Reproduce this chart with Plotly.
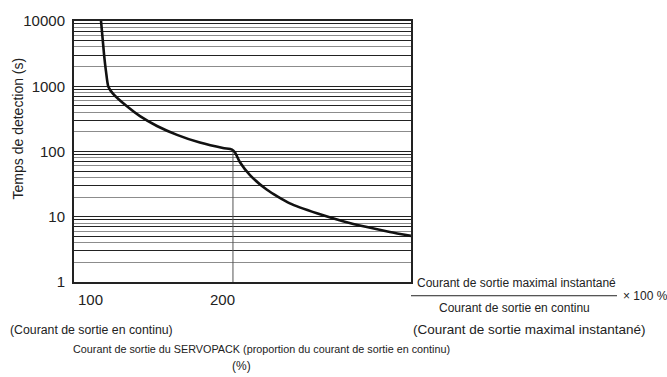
import numpy as np
import plotly.graph_objects as go

# Detection-time characteristic of the SERVOPACK overload protection
current_pct = [117.0, 118.9, 120.1, 121.6, 124.5, 133.3, 141.5, 152.2, 164.8,
               179.2, 193.7, 199.4, 201.3, 204.4, 210.7, 221.4, 235.8, 252.8,
               269.2, 284.3, 298.7, 311.9]
detect_time_s = [10000, 3080, 1710, 983, 771, 492, 348, 246, 180,
                 137, 113, 107, 96.6, 68.3, 43.5, 25.9, 16.0, 11.3,
                 8.56, 6.95, 5.85, 5.09]

x_range = [100, 312]
y_ticks = [1, 10, 100, 1000, 10000]
x_tick_values = [100, 200]

# minor grid values within each decade: odd multiples dark, even multiples light
dark_grid = [m * 10 ** d for d in range(4) for m in (1, 3, 5, 7, 9)] + [10000]
light_grid = [m * 10 ** d for d in range(4) for m in (2, 4, 6, 8)]

FONT = "Liberation Sans, Arial, sans-serif"
W, H = 667, 377
L, R, T, B = 74, 411, 16, 282  # plot area edges in pixels

fig = go.Figure()

# reference marker at 200 %
t200 = float(np.interp(200, current_pct, detect_time_s))
fig.add_trace(go.Scatter(x=[200, 200], y=[1, t200], mode="lines",
                         line=dict(color="#555555", width=1),
                         hoverinfo="skip", showlegend=False))

fig.add_trace(go.Scatter(x=current_pct, y=detect_time_s, mode="lines",
                         line=dict(color="#111111", width=2.6, shape="spline", smoothing=0.6),
                         showlegend=False))

fig.update_layout(
    width=W, height=H,
    margin=dict(l=L, r=W - R, t=T, b=H - B),
    paper_bgcolor="white", plot_bgcolor="white",
    font=dict(family=FONT, size=13, color="#222222"),
    xaxis=dict(range=x_range, showgrid=False, showticklabels=False, zeroline=False,
               showline=True, linecolor="#222222", linewidth=2, mirror=True, ticks=""),
    yaxis=dict(type="log", range=[0, 4], tickvals=dark_grid,
               ticktext=[str(v) if v in y_ticks else "" for v in dark_grid],
               showgrid=True, gridcolor="#222222", gridwidth=1,
               showline=True, linecolor="#222222", linewidth=2, mirror=True,
               ticks="", ticklabelstandoff=4, tickfont=dict(size=15)),
    yaxis2=dict(type="log", range=[0, 4], overlaying="y", tickvals=light_grid,
                showticklabels=False, showgrid=True, gridcolor="#8c8c8c", gridwidth=1,
                ticks="", showline=False, zeroline=False),
)

# invisible trace so the light grid axis is rendered
fig.add_trace(go.Scatter(x=[None], y=[None], yaxis="y2", showlegend=False, hoverinfo="skip"))

ann = []
for v, anchor, shift in zip(x_tick_values, ["left", "right"], [2, 4]):
    ann.append(dict(x=v, y=0, xref="x", yref="paper", yshift=-17, xshift=shift,
                    text=str(v), showarrow=False, xanchor=anchor, yanchor="middle",
                    font=dict(size=15)))


def px_to_paper(px, py):
    return (px - L) / (R - L), (B - py) / (B - T)


def paper_text(text, px, py, anchor="center", size=12, angle=0):
    x, y = px_to_paper(px, py)
    return dict(x=x, y=y, xref="paper", yref="paper", xanchor=anchor,
                yanchor="middle", text=text, showarrow=False, font=dict(size=size),
                textangle=angle)


ann += [
    paper_text("Temps de detection (s)", 17.5, 126, size=14, angle=-90),
    paper_text("(Courant de sortie en continu)", 8, 331, "left", size=12.3),
    paper_text("Courant de sortie du SERVOPACK (proportion du courant de sortie en continu)",
               70.5, 350, "left", size=10.8),
    paper_text("(%)", 241, 368),
    paper_text("Courant de sortie maximal instantané", 516, 283),
    paper_text("Courant de sortie en continu", 514, 309),
    paper_text("× 100 %", 621, 296, "left"),
    paper_text("(Courant de sortie maximal instantané)", 529, 330, size=13.5),
]
fig.update_layout(annotations=ann)

# fraction bar
x0, y0 = px_to_paper(411, 296)
x1, _ = px_to_paper(617, 296)
fig.add_shape(type="line", xref="paper", yref="paper", x0=x0, x1=x1, y0=y0, y1=y0,
              line=dict(color="#222222", width=1))

fig.write_html("out.html")
